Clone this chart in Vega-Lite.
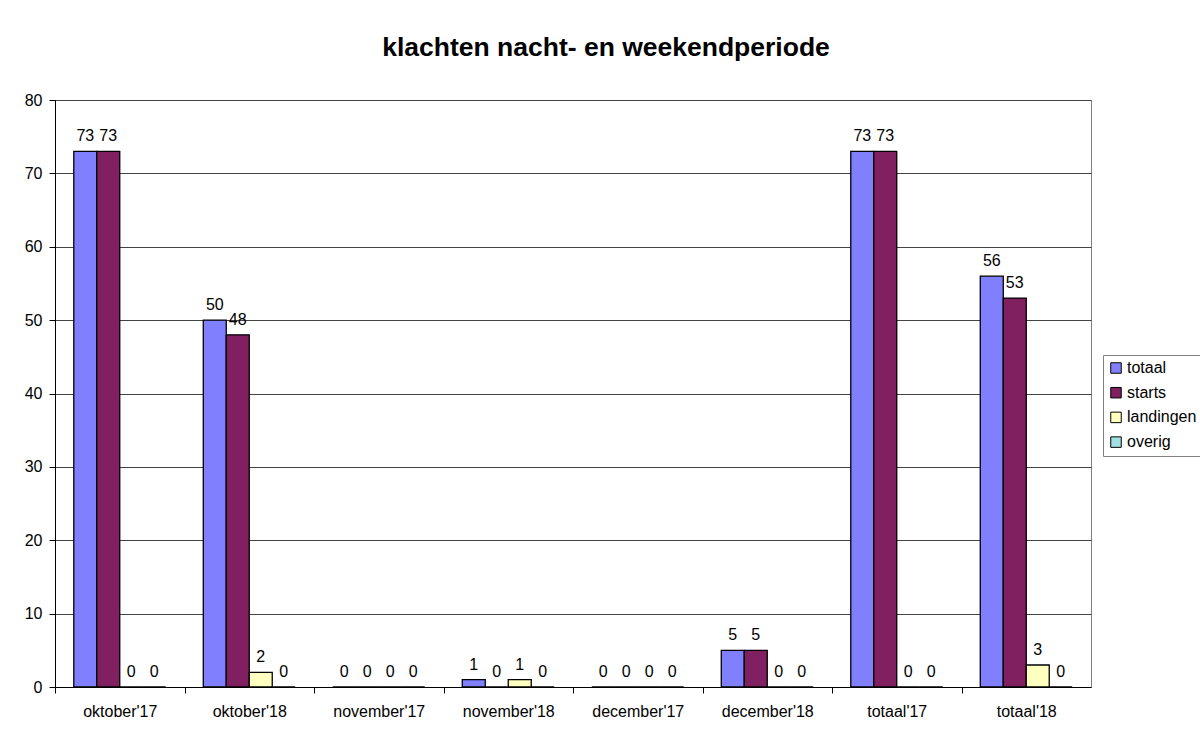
{
  "$schema": "https://vega.github.io/schema/vega-lite/v6.json",
  "width": 1036,
  "height": 587,
  "autosize": "none",
  "padding": {"left": 55, "top": 100, "right": 109, "bottom": 58},
  "background": "white",
  "title": {
    "text": "klachten nacht- en weekendperiode",
    "font": "Liberation Sans",
    "fontSize": 26.5,
    "fontWeight": "bold",
    "color": "black",
    "anchor": "middle",
    "baseline": "alphabetic",
    "dx": 33,
    "offset": 10
  },
  "data": {
    "values": [
      {"maand": "oktober'17", "soort": "totaal", "aantal": 73},
      {"maand": "oktober'17", "soort": "starts", "aantal": 73},
      {"maand": "oktober'17", "soort": "landingen", "aantal": 0},
      {"maand": "oktober'17", "soort": "overig", "aantal": 0},
      {"maand": "oktober'18", "soort": "totaal", "aantal": 50},
      {"maand": "oktober'18", "soort": "starts", "aantal": 48},
      {"maand": "oktober'18", "soort": "landingen", "aantal": 2},
      {"maand": "oktober'18", "soort": "overig", "aantal": 0},
      {"maand": "november'17", "soort": "totaal", "aantal": 0},
      {"maand": "november'17", "soort": "starts", "aantal": 0},
      {"maand": "november'17", "soort": "landingen", "aantal": 0},
      {"maand": "november'17", "soort": "overig", "aantal": 0},
      {"maand": "november'18", "soort": "totaal", "aantal": 1},
      {"maand": "november'18", "soort": "starts", "aantal": 0},
      {"maand": "november'18", "soort": "landingen", "aantal": 1},
      {"maand": "november'18", "soort": "overig", "aantal": 0},
      {"maand": "december'17", "soort": "totaal", "aantal": 0},
      {"maand": "december'17", "soort": "starts", "aantal": 0},
      {"maand": "december'17", "soort": "landingen", "aantal": 0},
      {"maand": "december'17", "soort": "overig", "aantal": 0},
      {"maand": "december'18", "soort": "totaal", "aantal": 5},
      {"maand": "december'18", "soort": "starts", "aantal": 5},
      {"maand": "december'18", "soort": "landingen", "aantal": 0},
      {"maand": "december'18", "soort": "overig", "aantal": 0},
      {"maand": "totaal'17", "soort": "totaal", "aantal": 73},
      {"maand": "totaal'17", "soort": "starts", "aantal": 73},
      {"maand": "totaal'17", "soort": "landingen", "aantal": 0},
      {"maand": "totaal'17", "soort": "overig", "aantal": 0},
      {"maand": "totaal'18", "soort": "totaal", "aantal": 56},
      {"maand": "totaal'18", "soort": "starts", "aantal": 53},
      {"maand": "totaal'18", "soort": "landingen", "aantal": 3},
      {"maand": "totaal'18", "soort": "overig", "aantal": 0}
    ]
  },
  "encoding": {
    "x": {
      "field": "maand",
      "type": "nominal",
      "sort": null,
      "scale": {"paddingInner": 0.29, "paddingOuter": 0.145},
      "axis": {
        "title": null,
        "labelAngle": 0,
        "bandPosition": 0,
        "tickOffset": -18.75,
        "labelOffset": 18.75,
        "domainColor": "black",
        "tickColor": "black",
        "tickSize": 6,
        "labelPadding": 10,
        "labelFont": "Liberation Sans",
        "labelFontSize": 16,
        "labelColor": "black",
        "grid": false
      }
    },
    "xOffset": {
      "field": "soort",
      "type": "nominal",
      "sort": ["totaal", "starts", "landingen", "overig"],
      "scale": {"paddingInner": 0, "paddingOuter": 0}
    },
    "y": {
      "field": "aantal",
      "type": "quantitative",
      "scale": {"domain": [0, 80], "nice": false},
      "axis": {
        "title": null,
        "values": [0, 10, 20, 30, 40, 50, 60, 70, 80],
        "domainColor": "black",
        "tickColor": "black",
        "tickSize": 6,
        "labelPadding": 7,
        "labelFont": "Liberation Sans",
        "labelFontSize": 16,
        "labelColor": "black",
        "grid": true,
        "gridColor": "#444444",
        "gridWidth": 1
      }
    }
  },
  "layer": [
    {
      "mark": {"type": "bar", "stroke": "black", "strokeWidth": 1.3},
      "encoding": {
        "color": {
          "field": "soort",
          "type": "nominal",
          "scale": {
            "domain": ["totaal", "starts", "landingen", "overig"],
            "range": ["#8080FF", "#802060", "#FFFFC0", "#A0E0E0"]
          },
          "legend": {
            "title": null,
            "orient": "none",
            "legendX": 1048,
            "legendY": 255,
            "strokeColor": "#808080",
            "fillColor": "white",
            "padding": 5,
            "symbolType": "square",
            "symbolSize": 110,
            "symbolStrokeColor": "black",
            "symbolStrokeWidth": 1,
            "labelFont": "Liberation Sans",
            "labelFontSize": 16,
            "labelColor": "black",
            "labelOffset": 3,
            "rowPadding": 8.7
          }
        }
      }
    },
    {
      "mark": {
        "type": "text",
        "dy": -10,
        "baseline": "alphabetic",
        "align": "center",
        "font": "Liberation Sans",
        "fontSize": 16,
        "color": "black"
      },
      "encoding": {
        "text": {"field": "aantal", "type": "quantitative"}
      }
    }
  ],
  "config": {
    "view": {"stroke": "#808080", "strokeWidth": 1}
  }
}
